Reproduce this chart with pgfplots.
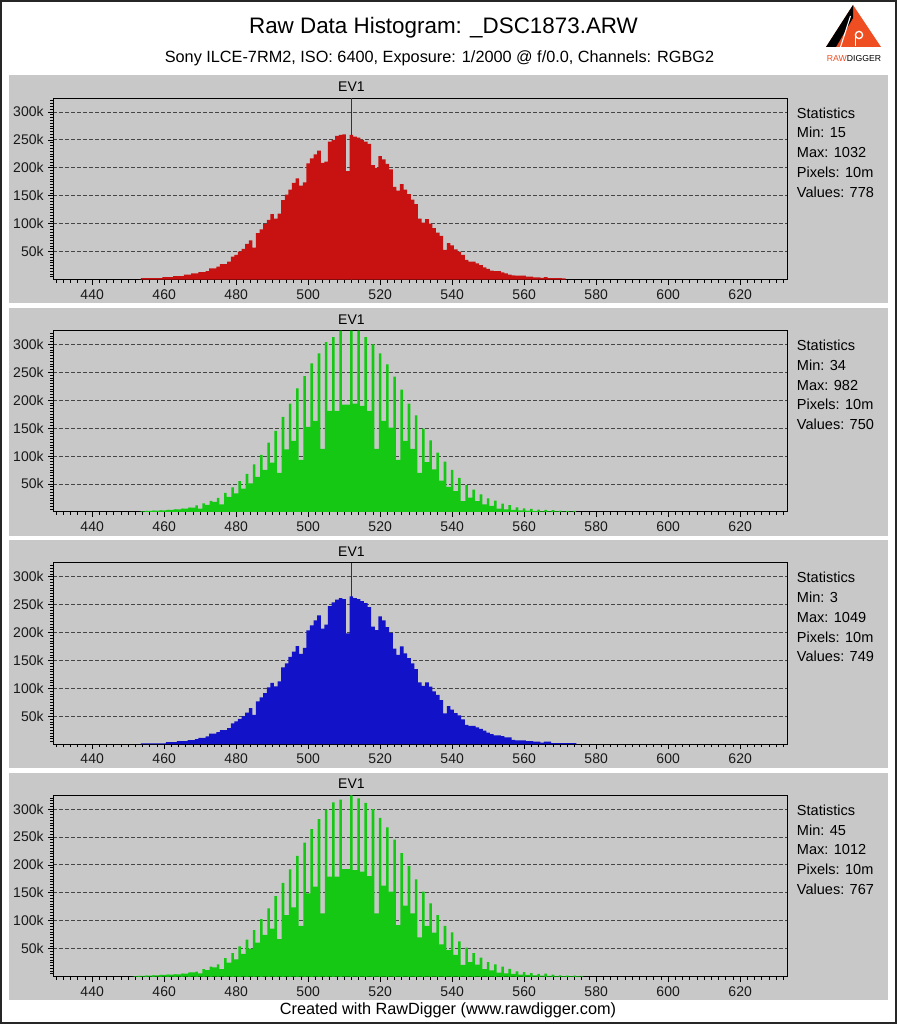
\documentclass[border=0pt]{standalone}
\usepackage{fontspec}
\setmainfont{Liberation Sans}
\usepackage{pgfplots}
\pgfplotsset{compat=1.18}
\usepackage{pgfplotstable}
\definecolor{bggray}{RGB}{200,200,200}
\definecolor{rdred}{RGB}{200,18,18}
\definecolor{rdgreen}{RGB}{20,200,20}
\definecolor{rdblue}{RGB}{18,18,200}
\definecolor{logoorange}{RGB}{238,78,34}
\definecolor{gridc}{RGB}{70,70,70}
\newcommand\tsz{\fontsize{10.5pt}{12pt}\selectfont}
\newcommand\ssz{\fontsize{10.9pt}{12pt}\selectfont}

\pgfplotstableread{
x y
453 0
454 2.7
455 2.7
456 2.7
457 2.7
458 2.7
459 2.7
460 4.5
461 4.5
462 4.5
463 6.3
464 6.3
465 6.3
466 8.7
467 8.7
468 11
469 11
470 13.4
471 13.4
472 15.2
473 20
474 20
475 23
476 27.7
477 27.7
478 32
479 41
480 44
481 50
482 55
483 64
484 70
485 57
486 83
487 90
488 99
489 107
490 117
491 109
492 118
493 142
494 152
495 161
496 173
497 181
498 168
499 174
500 208
501 217
502 224
503 231
504 209
505 211
506 247
507 250
508 257
509 259
510 260
511 194
512 259
513 256
514 254
515 250
516 247
517 243
518 205
519 200
520 221
521 215
522 207
523 197
524 166
525 159
526 171
527 161
528 153
529 143
530 135
531 109
532 102
533 108
534 100
535 92
536 84
537 78
538 53
539 65
540 61
541 54
542 50
543 44
544 35
545 32
546 32
547 29
548 26
549 22
550 19
551 16
552 15
553 15
554 13
555 11
556 9
557 7.5
558 7
559 7
560 7
561 5
562 5
563 4
564 4
565 3
566 4.5
567 2.7
568 2.7
569 2.7
570 2.7
571 2
572 0
}\redtab

\pgfplotstableread{
x y
453 0
454 1.5
455 1.5
456 1.5
457 1.5
458 1.5
459 1.5
460 1.5
461 3.9
462 3.9
463 3.9
464 5.7
465 5.7
466 5.7
467 7.5
468 7.5
469 9.2
470 11.6
471 11.6
472 14
473 18.8
474 18.8
475 21.8
476 25.4
477 25.4
478 29
479 37.3
480 41
481 45.6
482 50.4
483 56.4
484 64.7
485 52.8
486 76.7
487 83.8
488 91.6
489 101.7
490 110
491 103.5
492 112.4
493 137.5
494 144.7
495 156.6
496 166
497 175.7
498 162
499 172.7
500 204
501 212.6
502 221.7
503 230.7
504 206.8
505 214
506 247.3
507 254
508 258.7
509 261.7
510 259.8
511 198.4
512 264.6
513 261.7
514 259.8
515 256
516 252.5
517 245.7
518 210.4
519 204.4
520 228.8
521 221.7
522 209.8
523 199.6
524 171
525 160.2
526 175
527 162.6
528 154.3
529 144.7
530 134.6
531 110.7
532 104.7
533 110.7
534 103
535 94.6
536 88.6
537 79
538 55.2
539 68.3
540 61.8
541 55.8
542 51.6
543 44.5
544 34.9
545 33.1
546 33.1
547 30.1
548 27.7
549 24.2
550 20.6
551 18.2
552 15.8
553 15.8
554 14.6
555 12.2
556 12.2
557 8
558 6.9
559 6.9
560 6.9
561 5.7
562 5.7
563 4.5
564 4.5
565 2.7
566 4.5
567 4.5
568 2
569 2
570 2
571 2
572 2
573 2
574 2
575 0
}\bluetab

\pgfplotstableread{
x y
453 0
454 1
456 1.7
458 2.3
460 2.9
462 3.5
464 4.6
466 5.8
468 7.6
470 5.8
472 12.4
474 17.8
476 13.6
478 26.7
480 33.3
482 41.6
484 51
486 62.6
488 75
490 88
492 70
494 112
496 127
498 93
500 152
502 163
504 113
506 181
508 181
510 192
511 192
513 194
515 190
517 181
519 113
521 163
523 151
525 93
527 127
529 113
531 70
533 89
535 76
537 56
539 45
541 37
543 19.5
545 25.5
547 19.5
549 13.6
551 10.6
553 5.8
555 4.6
557 3.5
559 2.9
561 2.3
563 1.7
565 1
567 1
569 0.8
571 0.6
573 0.6
574 0
}\gAbase

\pgfplotstableread{
x y
455 1.7
457 2.3
459 2.9
461 3.5
463 4.6
465 5.8
467 7.6
469 11.8
471 15.4
473 19.6
475 25
477 34
479 44
481 55
483 68
485 85
487 102
489 124
491 145
493 170
495 194
497 221
499 243
501 266
503 284
505 304
507 313
509 324.5
512 324.5
514 324.5
516 313
518 300
520 284
522 264
524 242
526 219
528 194
530 173
532 149
534 128
536 106
538 90
540 75
542 61
544 48
546 40
548 31.5
550 24
552 20
554 15
556 12
558 8
560 6.4
562 5.3
564 4
566 3.5
568 3
570 2.3
572 1.7
574 1.7
}\gAspike

\pgfplotstableread{
x y
451 0
452 1
454 1.4
456 1.7
458 2.3
460 2.9
462 3.5
464 4
466 5.3
468 7.6
470 5.8
472 11.8
474 16.6
476 13.6
478 25
480 31
482 40.5
484 50
486 60.7
488 74.5
490 86
492 67
494 110
496 124
498 90.6
500 149
502 161
504 113
506 179
508 179
510 192.6
511 192.6
513 190.8
515 187.9
517 180
519 113
521 163
523 152
525 92
527 127
529 113
531 70
533 90.6
535 78.6
537 57.8
539 47.6
541 38.7
543 20.8
545 26
547 21.4
549 13.6
551 11.2
553 7
555 5.8
557 4.7
559 3.5
561 2.9
563 2.3
565 1.7
567 1.2
569 1
571 1
573 0.8
575 0.8
576 0
}\gBbase

\pgfplotstableread{
x y
453 1.4
455 1.7
457 2.3
459 2.9
461 3.5
463 4
465 5.3
467 7
469 8.8
471 13.6
473 18
475 22
477 33
479 42
481 54
483 66
485 83
487 103
489 122
491 144
493 168
495 192
497 216
499 240
501 264
503 282
505 299
507 312
509 317
512 324.5
514 319
516 311
518 300
520 284
522 267
524 245
526 221
528 198
530 174
532 152
534 131
536 110
538 91
540 79
542 63
544 52
546 42
548 34
550 26
552 22
554 18
556 14
558 9.4
560 8
562 6.4
564 4.7
566 5.3
568 3.5
570 2.3
572 1.7
574 1.7
576 1.4
}\gBspike

\pgfplotsset{
  rd/.style={
    scale only axis, width=550.5pt, height=135.94pt, anchor=south west,
    xmin=429.2, xmax=633.1, ymin=0, ymax=324.5,
    xtick={440,460,...,620}, minor xtick={430,432,...,632},
    ytick={50,100,...,300}, yticklabels={50k,100k,150k,200k,250k,300k},
    minor ytick={5,10,...,320},
    tick pos=left, tick align=outside,
    major tick length=3.75pt, minor tick length=2.25pt,
    every tick/.append style={black, line width=0.5pt},
    ymajorgrids,
    major grid style={gridc, dash pattern=on 3pt off 1.5pt, line width=0.6pt},
    axis line style={line width=0.75pt},
    tick label style={font=\tsz, text=black!90},
    /pgf/number format/assume math mode=true,
    clip=false,
  },
  ev/.style={black!80, line width=0.75pt},
}

\begin{document}
\begin{tikzpicture}
\begin{scope}[x=0.75pt,y=0.75pt]
\useasboundingbox (0,0) rectangle (897,1024);
\fill[white] (0,0) rectangle (897,1024);
% panels
\fill[bggray] (8.5,720.7) rectangle (887.5,948.5);
\fill[bggray] (8.5,488.35) rectangle (887.5,716.15);
\fill[bggray] (8.5,256.0) rectangle (887.5,483.8);
\fill[bggray] (8.5,23.65) rectangle (887.5,251.45);
\draw[black!85, line width=1.5pt] (1,1) rectangle (896,1023);

% titles
\node[anchor=base, inner sep=0] at (443.5,990.7) {\fontsize{16.8pt}{19pt}\selectfont Raw Data Histogram: \_DSC1873.ARW};
\node[anchor=base, inner sep=0] at (439.5,961.5) {\fontsize{12.2pt}{14pt}\selectfont Sony ILCE-7RM2, ISO: 6400, Exposure: 1/2000 @ f/0.0, Channels: RGBG2};
\node[anchor=base, inner sep=0] at (448,9) {\fontsize{12.2pt}{14pt}\selectfont Created with RawDigger (www.rawdigger.com)};

% logo
\fill[logoorange] (853,1019) -- (881,977) -- (826,977) -- cycle;
\fill[black] (853,1019) -- (826,977) -- (836,977) -- (853,1006) -- cycle;
\draw[white, line width=0.8pt] (850.5,1008) -- (840.5,977);
\draw[white, line width=1pt] (859,989) circle (3.6);
\draw[white, line width=1pt] (855.4,989) -- (855.4,977.5);
\node[anchor=base, inner sep=0] at (854,962) {\fontsize{6.5pt}{7pt}\selectfont\textcolor{logoorange}{RAW}DIGGER};
\end{scope}

% panel 1: red
\begin{axis}[rd, at={(39.975pt,558.3375pt)}]
\addplot[ev] coordinates {(512,0) (512,324.5)};
\addplot[fill=rdred, draw=none, const plot mark mid] table {\redtab} \closedcycle;
\end{axis}
% panel 2: green
\begin{axis}[rd, at={(39.975pt,384.075pt)}]
\addplot[ev] coordinates {(512,0) (512,324.5)};
\addplot[fill=rdgreen, draw=none, const plot mark mid] table {\gAbase} \closedcycle;
\addplot[ybar, bar width=0.72, bar shift=0pt, fill=rdgreen, draw=none] table {\gAspike};
\end{axis}
% panel 3: blue
\begin{axis}[rd, at={(39.975pt,209.8125pt)}]
\addplot[ev] coordinates {(512,0) (512,324.5)};
\addplot[fill=rdblue, draw=none, const plot mark mid] table {\bluetab} \closedcycle;
\end{axis}
% panel 4: green 2
\begin{axis}[rd, at={(39.975pt,35.55pt)}]
\addplot[ev] coordinates {(512,0) (512,324.5)};
\addplot[fill=rdgreen, draw=none, const plot mark mid] table {\gBbase} \closedcycle;
\addplot[ybar, bar width=0.72, bar shift=0pt, fill=rdgreen, draw=none] table {\gBspike};
\end{axis}

\begin{scope}[x=0.75pt,y=0.75pt]
% EV1 labels
\foreach \yy in {932.3,699.95,467.6,235.25}
  \node[anchor=base, inner sep=0] at (351.4,\yy) {\tsz EV1};
% statistics
\begin{scope}[every node/.style={anchor=base west, inner sep=0, font=\ssz}]
\node at (796.7,905.7) {Statistics};
\node at (796.7,886.0) {Min: 15};
\node at (796.7,866.3) {Max: 1032};
\node at (796.7,846.6) {Pixels: 10m};
\node at (796.7,826.9) {Values: 778};
\node at (796.7,673.35) {Statistics};
\node at (796.7,653.65) {Min: 34};
\node at (796.7,633.95) {Max: 982};
\node at (796.7,614.25) {Pixels: 10m};
\node at (796.7,594.55) {Values: 750};
\node at (796.7,441.0) {Statistics};
\node at (796.7,421.3) {Min: 3};
\node at (796.7,401.6) {Max: 1049};
\node at (796.7,381.9) {Pixels: 10m};
\node at (796.7,362.2) {Values: 749};
\node at (796.7,208.65) {Statistics};
\node at (796.7,188.95) {Min: 45};
\node at (796.7,169.25) {Max: 1012};
\node at (796.7,149.55) {Pixels: 10m};
\node at (796.7,129.85) {Values: 767};
\end{scope}
\end{scope}
\end{tikzpicture}
\end{document}
